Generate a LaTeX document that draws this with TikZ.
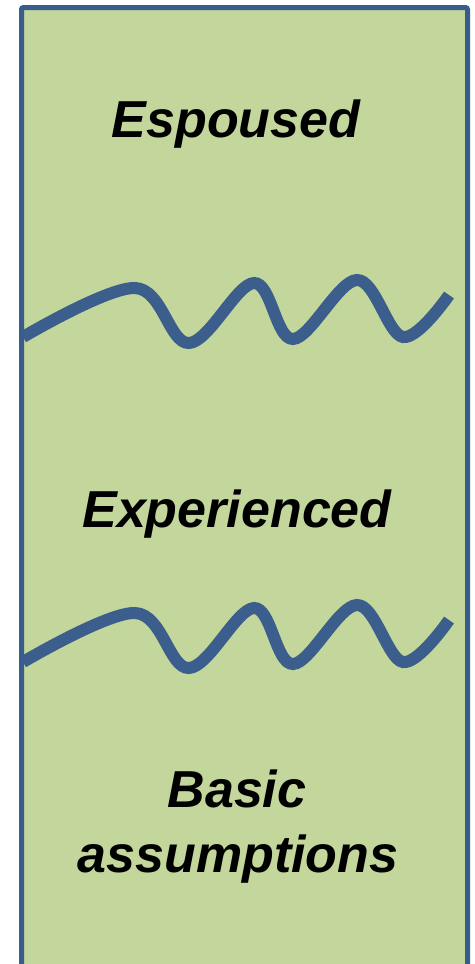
\documentclass[tikz,border=0pt]{standalone}
\usepackage{fontspec}
\setmainfont{Liberation Sans}
\usetikzlibrary{positioning}
\definecolor{sage}{RGB}{195,214,155}
\definecolor{slate}{RGB}{56,93,138}
\definecolor{wave}{RGB}{59,94,140}

\begin{document}
\begin{tikzpicture}[x=0.5pt,y=-0.5pt,
    layer/.style={font=\fontsize{26}{26}\selectfont\bfseries\itshape,align=center,anchor=base}]
    \useasboundingbox (0,0) rectangle (475,964);
    \clip (0,0) rectangle (475,964);
    \draw[slate,fill=sage,line width=2.5pt,rounded corners=1pt] (21.5,990) -- (21.5,7.5) -- (467.5,7.5) -- (467.5,990);
    \foreach \dy in {0,325}
    {
      \draw[wave,line width=6pt] plot[smooth,tension=0.6] coordinates {
        (23,337+\dy) (135,288+\dy) (189,343+\dy) (254,283+\dy) (293,339+\dy) (357,280+\dy) (403,337+\dy) (449,295+\dy)};
    }
    \node[layer] (espoused) at (236,137) {Espoused};
    \node[layer] (experienced) at (237,527) {Experienced};
    \node[layer] (basic) at (237,807) {Basic};
    \node[layer] (assumptions) at (238,872) {assumptions};
\end{tikzpicture}
\end{document}
